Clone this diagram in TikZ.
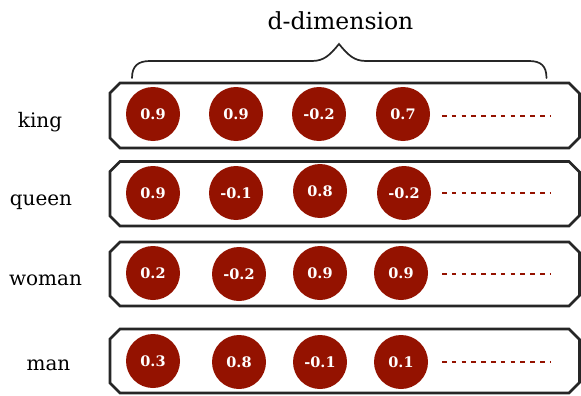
\documentclass[tikz,border=0pt]{standalone}
\usepackage{fontspec}
\setmainfont{DejaVu Serif}
\newfontfamily\numfont{DejaVu Serif}[UprightFont={* Bold}]
\definecolor{vecred}{RGB}{148,18,0}
\definecolor{boxgray}{RGB}{38,38,38}
\newcommand\chambox[2]{%
  \draw[vbox] (110,#1+10) -- (120,#1) -- (569,#1) -- (579.5,#1+10.5) -- (579.5,#2-10.5) -- (569,#2) -- (120,#2) -- (110,#2-10) -- cycle;}
\begin{document}
\begin{tikzpicture}[x=1pt,y=-1pt,
  lbl/.style={font=\fontsize{20}{20}\selectfont, anchor=base, inner sep=0pt, text=black},
  title/.style={font=\fontsize{23.5}{24}\selectfont, anchor=base, inner sep=0pt, text=black},
  val/.style={circle, fill=vecred, minimum size=54pt, inner sep=0pt, text=white,
              font=\numfont\fontsize{14.5}{15}\selectfont},
  vbox/.style={draw=boxgray, line width=2.6pt, line join=miter},
  dots/.style={draw=vecred, line width=2.8pt, dash pattern=on 4.5pt off 5.3pt},
  bracestyle/.style={draw=boxgray, line width=1.7pt, line cap=round}]
\useasboundingbox (0,0) rectangle (581,396);
\fill[white] (0,0) rectangle (581,396);

% title and brace
\node[title] (dim) at (340.5,30) {d-dimension};
\coordinate (bl) at (132,78);
\coordinate (btip) at (339,44);
\coordinate (br) at (546.5,78);
\draw[bracestyle] (bl) .. controls (132,66) and (138,61) .. (150,61) -- (312,61)
  .. controls (324,61) and (330,55) .. (btip)
  .. controls (348,55) and (354,61) .. (366,61) -- (529,61)
  .. controls (541,61) and (546.5,66) .. (br);

% boxes
\chambox{83}{148}
\chambox{161.5}{226}
\chambox{242}{306}
\chambox{329}{393}

% labels
\node[lbl] (king) at (40,127) {king};
\node[lbl] (queen) at (41,205) {queen};
\node[lbl] (woman) at (45.5,285) {woman};
\node[lbl] (man) at (48.5,370) {man};

% king row
\node[val] (k1) at (153,114) {0.9};
\node[val] (k2) at (236,114) {0.9};
\node[val] (k3) at (319,114) {-0.2};
\node[val] (k4) at (403,114) {0.7};
\coordinate (kd1) at (442,116);
\coordinate (kd2) at (550,116);
\draw[dots] (kd1) -- (kd2);

% queen row
\node[val] (q1) at (153,193) {0.9};
\node[val] (q2) at (236,193) {-0.1};
\node[val] (q3) at (320,191) {0.8};
\node[val] (q4) at (404,193) {-0.2};
\coordinate (qd1) at (442,193);
\coordinate (qd2) at (550,193);
\draw[dots] (qd1) -- (qd2);

% woman row
\node[val] (w1) at (153,273) {0.2};
\node[val] (w2) at (239,274) {-0.2};
\node[val] (w3) at (320,273) {0.9};
\node[val] (w4) at (401,273) {0.9};
\coordinate (wd1) at (442,274);
\coordinate (wd2) at (550,274);
\draw[dots] (wd1) -- (wd2);

% man row
\node[val] (m1) at (153,361) {0.3};
\node[val] (m2) at (239,362) {0.8};
\node[val] (m3) at (320,362) {-0.1};
\node[val] (m4) at (401,362) {0.1};
\coordinate (md1) at (442,362);
\coordinate (md2) at (550,362);
\draw[dots] (md1) -- (md2);
\end{tikzpicture}
\end{document}
